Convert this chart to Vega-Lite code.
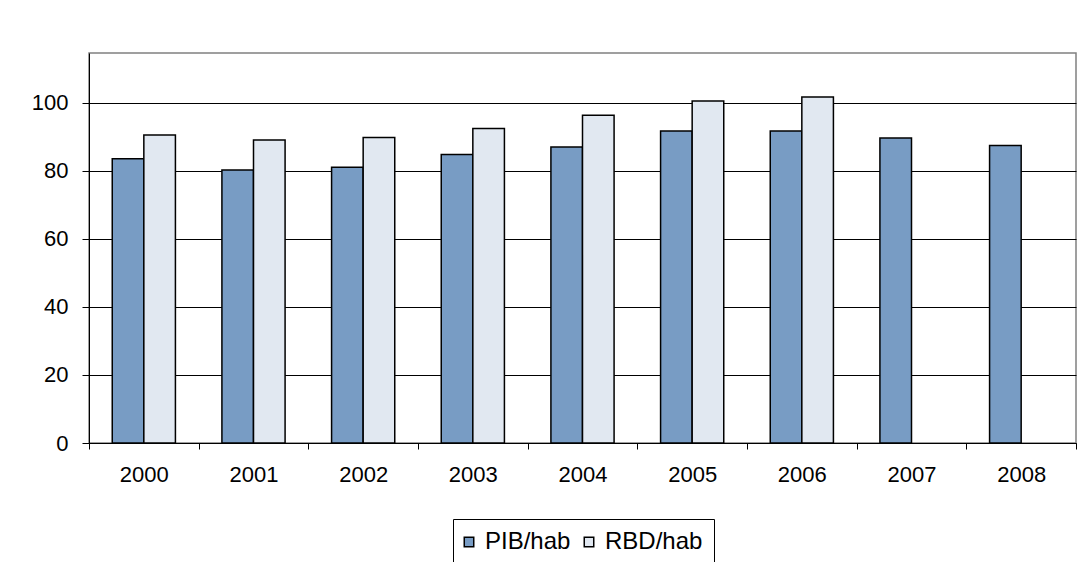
{
  "$schema": "https://vega.github.io/schema/vega-lite/v6.json",
  "width": 987,
  "height": 390,
  "autosize": {"type": "none"},
  "padding": {"left": 89, "top": 53, "right": 2, "bottom": 119},
  "background": "white",
  "config": {
    "font": "Liberation Sans",
    "view": {"stroke": "#808080", "strokeWidth": 1.5},
    "axis": {"labelFont": "Liberation Sans", "labelColor": "#000000", "labelFontSize": 22}
  },
  "data": {
    "values": [
      {"year": "2000", "series": "PIB/hab", "value": 83.5},
      {"year": "2000", "series": "RBD/hab", "value": 90.5},
      {"year": "2001", "series": "PIB/hab", "value": 80.2},
      {"year": "2001", "series": "RBD/hab", "value": 89.0},
      {"year": "2002", "series": "PIB/hab", "value": 81.0},
      {"year": "2002", "series": "RBD/hab", "value": 89.8},
      {"year": "2003", "series": "PIB/hab", "value": 84.8},
      {"year": "2003", "series": "RBD/hab", "value": 92.4},
      {"year": "2004", "series": "PIB/hab", "value": 87.0},
      {"year": "2004", "series": "RBD/hab", "value": 96.3},
      {"year": "2005", "series": "PIB/hab", "value": 91.7},
      {"year": "2005", "series": "RBD/hab", "value": 100.5},
      {"year": "2006", "series": "PIB/hab", "value": 91.7},
      {"year": "2006", "series": "RBD/hab", "value": 101.7},
      {"year": "2007", "series": "PIB/hab", "value": 89.6},
      {"year": "2008", "series": "PIB/hab", "value": 87.4}
    ]
  },
  "mark": {"type": "bar", "stroke": "#000000", "strokeWidth": 1.5},
  "encoding": {
    "x": {
      "field": "year",
      "type": "nominal",
      "scale": {"paddingInner": 0, "paddingOuter": 0},
      "axis": {
        "title": null,
        "labelAngle": 0,
        "tickBand": "extent",
        "domainColor": "#000000",
        "domainWidth": 1,
        "tickColor": "#000000",
        "tickSize": 6,
        "labelPadding": 15,
        "grid": false
      }
    },
    "xOffset": {
      "field": "series",
      "type": "nominal",
      "scale": {"paddingInner": 0, "paddingOuter": 0.736}
    },
    "y": {
      "field": "value",
      "type": "quantitative",
      "scale": {"domain": [0, 114.6], "nice": false, "zero": true},
      "axis": {
        "title": null,
        "values": [0, 20, 40, 60, 80, 100],
        "grid": true,
        "gridColor": "#000000",
        "gridWidth": 1,
        "gridOpacity": 1,
        "domainColor": "#000000",
        "domainWidth": 1,
        "tickColor": "#000000",
        "tickSize": 7,
        "labelPadding": 14
      }
    },
    "color": {
      "field": "series",
      "type": "nominal",
      "scale": {"domain": ["PIB/hab", "RBD/hab"], "range": ["#789CC4", "#E1E8F1"]},
      "legend": {
        "title": null,
        "orient": "none",
        "direction": "horizontal",
        "legendX": 364,
        "legendY": 466,
        "symbolType": "square",
        "symbolSize": 90,
        "symbolOffset": -7,
        "symbolStrokeColor": "#000000",
        "symbolStrokeWidth": 1.5,
        "labelFont": "Liberation Sans",
        "labelFontSize": 24,
        "labelColor": "#000000",
        "labelOffset": 4,
        "columnPadding": 10,
        "padding": 11,
        "strokeColor": "#000000",
        "fillColor": "white"
      }
    }
  }
}
